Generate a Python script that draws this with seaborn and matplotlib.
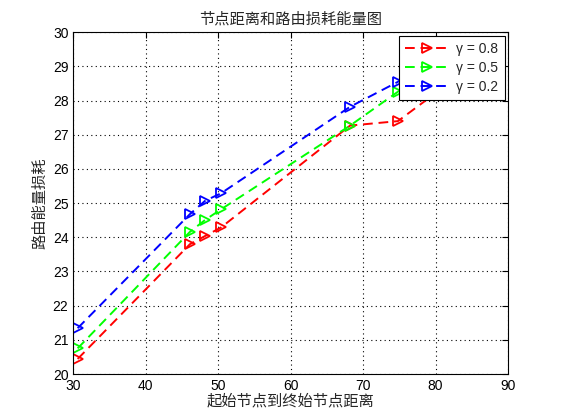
import matplotlib
matplotlib.use("Agg")
import matplotlib.pyplot as plt
import seaborn as sns
import pandas as pd

# data
distance = [30.6, 46.1, 48.2, 50.4, 68.2, 74.8, 80.0]
energy_08 = [20.44, 23.80, 24.04, 24.29, 27.27, 27.40, 28.22]
energy_05 = [20.75, 24.16, 24.51, 24.82, 27.27, 28.26, 29.00]
energy_02 = [21.34, 24.68, 25.07, 25.29, 27.82, 28.55, 29.20]
series_labels = ["γ = 0.8", "γ = 0.5", "γ = 0.2"]
x_ticks = [30, 40, 50, 60, 70, 80, 90]
y_ticks = list(range(20, 31))
title_text = "节点距离和路由损耗能量图"
xlabel_text = "起始节点到终始节点距离"
ylabel_text = "路由能量损耗"

sns.set_style("white")
plt.rcParams['font.family'] = ['Liberation Sans', 'Noto Sans CJK SC', 'DejaVu Sans']
cjk = ['Noto Sans CJK SC', 'DejaVu Sans']

fig = plt.figure(figsize=(5.61, 4.2), dpi=100)
ax = fig.add_axes([73.3 / 561, (420 - 374) / 420, (508 - 73.3) / 561, (374 - 32.3) / 420])

colors = ["#ff0000", "#00ff00", "#0000ff"]
for vals, lab, col in zip([energy_08, energy_05, energy_02], series_labels, colors):
    df = pd.DataFrame({"d": distance, "e": vals})
    sns.lineplot(data=df, x="d", y="e", ax=ax, color=col, sort=False,
                 marker=">", markersize=7.5, markerfacecolor="none",
                 markeredgecolor=col, markeredgewidth=1.3,
                 linewidth=1.4, label=lab)
for ln in ax.lines:
    ln.set_linestyle((0, (5, 3)))

ax.set_xlim(30, 90)
ax.set_ylim(20, 30)
ax.set_xticks(x_ticks)
ax.set_yticks(y_ticks)
ax.grid(True, color="black", linestyle=(0, (1, 3)), linewidth=0.8)
ax.tick_params(direction="in", length=4, width=0.8, top=True, right=True,
               labelsize=10, colors="black", pad=3.5)
for s in ax.spines.values():
    s.set_visible(True)
    s.set_color("black")
    s.set_linewidth(0.8)

ax.set_title(title_text, family=cjk, fontsize=11, pad=6)
ax.set_xlabel(xlabel_text, family=cjk, fontsize=11, labelpad=0)
ax.set_ylabel(ylabel_text, family=cjk, fontsize=11, labelpad=3)

leg = ax.legend(loc="upper right", frameon=True, fancybox=False, fontsize=10,
                borderaxespad=0.25, handlelength=3.2, handletextpad=0.5,
                labelspacing=0.35, borderpad=0.45)
leg.get_frame().set_edgecolor("black")
leg.get_frame().set_linewidth(0.8)
leg.get_frame().set_alpha(1)

fig.savefig("out.png", dpi=100, facecolor="white")
